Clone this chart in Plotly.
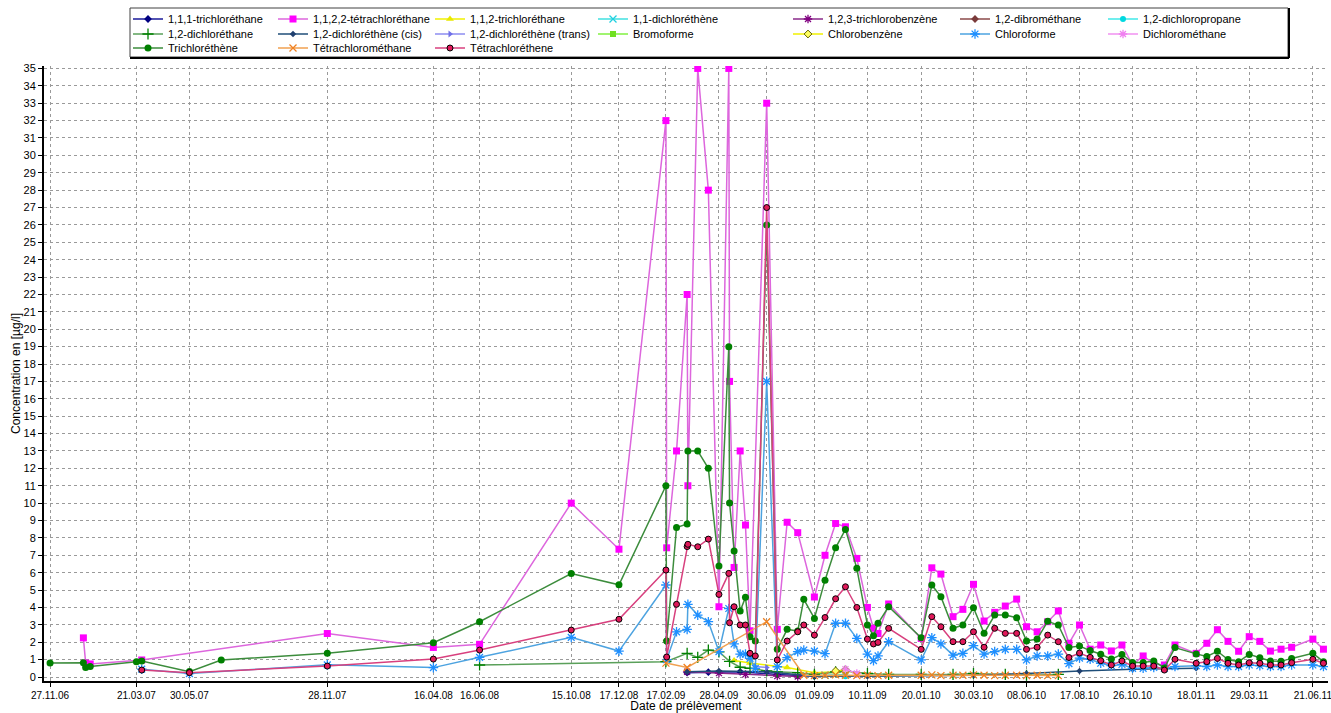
import plotly.graph_objects as go

# ---------------- data ----------------
dates = [
    "2006-11-27", "2007-01-10", "2007-01-13", "2007-01-19", "2007-03-21", "2007-03-28",
    "2007-05-30", "2007-07-11", "2007-11-28", "2008-04-16", "2008-06-16", "2008-10-15",
    "2008-12-17", "2009-02-17", "2009-02-18", "2009-03-03", "2009-03-17", "2009-03-18",
    "2009-03-31", "2009-04-14", "2009-04-28", "2009-05-11", "2009-05-12", "2009-05-18",
    "2009-05-26", "2009-06-02", "2009-06-08", "2009-06-15", "2009-06-30", "2009-07-14",
    "2009-07-27", "2009-08-10", "2009-08-18", "2009-09-01", "2009-09-15", "2009-09-29",
    "2009-10-12", "2009-10-27", "2009-11-10", "2009-11-18", "2009-11-24", "2009-12-08",
    "2010-01-20", "2010-02-03", "2010-02-15", "2010-03-03", "2010-03-16", "2010-03-30",
    "2010-04-13", "2010-04-27", "2010-05-11", "2010-05-26", "2010-06-08", "2010-06-22",
    "2010-07-06", "2010-07-20", "2010-08-03", "2010-08-17", "2010-08-31", "2010-09-14",
    "2010-09-28", "2010-10-12", "2010-10-26", "2010-11-09", "2010-11-23", "2010-12-07",
    "2010-12-21", "2011-01-18", "2011-02-01", "2011-02-15", "2011-03-01", "2011-03-15",
    "2011-03-29", "2011-04-12", "2011-04-26", "2011-05-10", "2011-05-24", "2011-06-21",
    "2011-07-05",
]

trichloroethene = [
    0.8, 0.82, 0.55, 0.6, 0.88, 0.92, 0.31, 0.98, 1.36, 1.97, 3.18, 5.95,
    5.3, 11.0, 2.07, 8.6, 8.8, 13.0, 13.0, 12.0, 6.38, 19.0, 10.0, 7.24,
    3.79, 4.58, 2.32, 2.07, 26.0, 1.59, 2.74, 2.64, 4.47, 3.37, 5.57, 7.43,
    8.49, 6.25, 2.99, 2.37, 3.09, 4.04, 2.26, 5.29, 4.62, 2.8, 2.99, 3.98,
    2.51, 3.56, 3.56, 3.41, 2.07, 2.18, 3.2, 2.99, 1.7, 1.78, 1.52, 1.31,
    1.03, 1.3, 0.83, 0.83, 0.92, 0.52, 1.69, 1.33, 1.18, 1.48, 1.0, 0.88,
    1.3, 1.11, 0.92, 0.9, 1.07, 1.36, 0.88,
]

tetrachloroethane_1122 = [
    None, 2.25, 0.8, 0.75, None, 0.98, None, None, 2.5, 1.7, 1.88, 10.0,
    7.35, 32.0, 7.43, 13.0, 22.0, 11.0, 35.0, 28.0, 4.04, 35.0, 17.0, 6.3,
    13.0, 8.74, 2.66, None, 33.0, 2.74, 8.9, 8.3, None, 4.6, 7.0, 8.83,
    8.64, 6.82, 4.0, 2.8, 2.5, 4.2, 2.22, 6.28, 5.92, 3.47, 3.89, 5.33,
    3.22, 3.72, 4.08, 4.48, 2.89, 2.6, 3.18, 3.8, 1.94, 2.99, 1.6, 1.84,
    1.5, 1.84, 0.7, 1.21, 0.75, 0.69, 1.84, 1.36, 1.94, 2.72, 2.05, 1.48,
    2.32, 2.05, 1.49, 1.6, 1.71, 2.18, 1.6,
]

tetrachloroethene = [
    None, None, None, None, None, 0.4, 0.25, None, 0.63, 1.03, 1.55, 2.7,
    3.32, 6.15, 1.15, 4.18, 7.5, 7.63, 7.49, 7.93, 4.75, 5.96, 3.12, 4.04,
    2.99, 2.99, 1.36, 1.21, 27.0, 0.98, 2.07, 2.6, 2.99, 2.41, 3.42, 4.5,
    5.19, 4.0, 2.18, 1.9, 1.99, 2.8, 1.59, 3.47, 2.89, 2.03, 2.03, 2.6,
    1.71, 2.8, 2.51, 2.51, 1.59, 1.71, 2.41, 2.03, 1.12, 1.38, 1.13, 0.94,
    0.69, 0.92, 0.63, 0.63, 0.63, 0.4, 1.02, 0.79, 0.88, 1.07, 0.79, 0.69,
    0.82, 0.79, 0.69, 0.69, 0.82, 1.02, 0.79,
]

chloroforme = [
    None, None, None, None, None, 0.45, 0.2, None, 0.7, 0.54, 1.13, 2.28,
    1.49, 5.29, 1.0, 2.6, 2.74, 4.18, 3.56, 3.18, 1.46, 3.94, None, 1.9,
    1.32, 1.32, 1.07, 0.5, 17.0, 0.59, 1.11, 1.46, 1.55, 1.49, 1.34, 3.09,
    3.09, 2.22, 1.32, 0.94, 1.21, 2.03, 0.98, 2.26, 1.9, 1.26, 1.36, 1.8,
    1.32, 1.46, 1.59, 1.59, 0.98, 1.21, 1.21, 1.32, 0.77, 1.09, 1.02, 0.79,
    0.65, 0.72, 0.5, 0.5, 0.55, 0.5, 0.6, 0.65, 0.6, 0.69, 0.6, 0.6,
    0.69, 0.65, 0.6, 0.6, 0.69, 0.69, 0.6,
]

dichloroethane_12_dates = [
    "2008-06-16", "2009-02-17", "2009-03-17", "2009-03-31", "2009-04-14", "2009-04-28",
    "2009-05-12", "2009-05-26", "2009-06-08", "2009-06-30", "2009-07-14", "2009-08-10",
    "2009-09-01", "2009-09-29", "2009-10-12", "2009-11-10", "2009-12-08", "2010-01-20",
    "2010-03-03", "2010-03-30", "2010-05-11", "2010-06-08", "2010-07-20",
]
dichloroethane_12 = [
    0.69, 0.88, 1.36, 1.13, 1.55, 1.45, 0.9, 0.56, 0.5, 0.35, 0.3, 0.25,
    0.15, 0.3, 0.35, 0.2, 0.15, 0.15, 0.15, 0.2, 0.15, 0.1, 0.15,
]

tetrachloromethane_dates = [
    "2009-02-17", "2009-03-17", "2009-06-30", "2009-08-18", "2009-09-01", "2009-09-15",
    "2009-09-29", "2009-10-12", "2009-10-27", "2009-11-10", "2009-11-24", "2009-12-08",
    "2010-01-20", "2010-02-03", "2010-02-15", "2010-03-03", "2010-03-16", "2010-03-30",
    "2010-04-13", "2010-04-27", "2010-05-11", "2010-05-26", "2010-06-08", "2010-06-22",
    "2010-07-06", "2010-07-20",
]
tetrachloromethane = [
    0.8, 0.55, 3.18, 0.1, 0.08, 0.1, 0.12, 0.1, 0.08, 0.1, 0.08, 0.1,
    0.1, 0.12, 0.08, 0.1, 0.1, 0.12, 0.1, 0.08, 0.1, 0.1, 0.08, 0.1,
    0.08, 0.08,
]

dce_cis_dates = ["2009-03-17", "2009-04-28", "2009-06-30", "2009-09-01", "2009-11-10",
                 "2010-01-20", "2010-03-30", "2010-06-08", "2010-08-17", "2010-10-26",
                 "2011-01-18"]
dce_cis = [0.3, 0.35, 0.3, 0.05, 0.05, 0.08, 0.1, 0.2, 0.35, 0.45, 0.5]

tca_111_dates = ["2009-03-17", "2009-04-14", "2009-05-26", "2009-07-14", "2009-09-01"]
tca_111 = [0.25, 0.28, 0.3, 0.15, 0.05]

tcb_123_dates = ["2009-03-17", "2009-04-28", "2009-06-02", "2009-07-14", "2009-08-10"]
tcb_123 = [0.3, 0.22, 0.15, 0.05, 0.03]

tca_112_dates = ["2009-05-18", "2009-06-08", "2009-07-27", "2009-09-01", "2009-09-29",
                 "2009-10-12", "2009-10-27"]
tca_112 = [0.95, 0.8, 0.55, 0.25, 0.3, 0.45, 0.15]

chlorobenzene_dates = ["2009-09-29", "2009-10-12"]
chlorobenzene = [0.35, 0.4]

dce_11_dates = ["2009-09-15", "2009-10-12"]
dce_11 = [0.1, 0.15]

dcp_12_dates = ["2009-10-12"]
dcp_12 = [0.05]

dichloromethane_dates = ["2009-10-12", "2009-10-27"]
dichloromethane = [0.45, 0.2]

bromoforme_dates = ["2009-10-12"]
bromoforme = [0.35]

dce_trans_dates = ["2009-06-15", "2009-06-30"]
dce_trans = [0.6, 0.55]

dibromethane_dates = ["2009-02-18"]
dibromethane = [2.1]

tick_dates = ["2006-11-27", "2007-03-21", "2007-05-30", "2007-11-28", "2008-04-16",
              "2008-06-16", "2008-10-15", "2008-12-17", "2009-02-17", "2009-04-28",
              "2009-06-30", "2009-09-01", "2009-11-10", "2010-01-20", "2010-03-30",
              "2010-06-08", "2010-08-17", "2010-10-26", "2011-01-18", "2011-03-29",
              "2011-06-21"]
tick_text = ["27.11.06", "21.03.07", "30.05.07", "28.11.07", "16.04.08", "16.06.08",
             "15.10.08", "17.12.08", "17.02.09", "28.04.09", "30.06.09", "01.09.09",
             "10.11.09", "20.01.10", "30.03.10", "08.06.10", "17.08.10", "26.10.10",
             "18.01.11", "29.03.11", "21.06.11"]

# ---------------- style ----------------
W, H = 1331, 713
L, R, T, B = 44, 3, 66, 32
PW, PH = W - L - R, H - T - B
FONT = "Liberation Sans, Arial, sans-serif"

# (name, x, y, line colour, marker colour, symbol, size, outline colour)
series = [
    ("1,1,1-trichloréthane", tca_111_dates, tca_111, "#1a1a9a", "#000080", "diamond", 6, None),
    ("1,1,2,2-tétrachloréthane", dates, tetrachloroethane_1122, "#dd66dd", "#ff00ff", "square", 7, None),
    ("1,1,2-trichloréthane", tca_112_dates, tca_112, "#f0f000", "#e8e800", "triangle-up", 7, None),
    ("1,1-dichloréthène", dce_11_dates, dce_11, "#40e0e0", "#20d0e0", "x-thin-open", 7, None),
    ("1,2,3-trichlorobenzène", tcb_123_dates, tcb_123, "#8a2a8a", "#800080", "asterisk-open", 7, None),
    ("1,2-dibrométhane", dibromethane_dates, dibromethane, "#8b4a4a", "#7a3a3a", "diamond", 6, None),
    ("1,2-dichloropropane", dcp_12_dates, dcp_12, "#40e8e8", "#00d8e0", "circle", 6, None),
    ("1,2-dichloréthane", dichloroethane_12_dates, dichloroethane_12, "#5aa05a", "#008000", "cross-thin-open", 8, None),
    ("1,2-dichloréthène (cis)", dce_cis_dates, dce_cis, "#1f4e79", "#1f3f6f", "diamond", 5, None),
    ("1,2-dichloréthène (trans)", dce_trans_dates, dce_trans, "#8c8cf0", "#7070e8", "triangle-right", 6, None),
    ("Bromoforme", bromoforme_dates, bromoforme, "#80f040", "#70e020", "square", 6, None),
    ("Chlorobenzène", chlorobenzene_dates, chlorobenzene, "#f0f000", "#ffff60", "diamond", 6, "#606000"),
    ("Chloroforme", dates, chloroforme, "#4da3e0", "#1e8fff", "asterisk-open", 8, None),
    ("Dichlorométhane", dichloromethane_dates, dichloromethane, "#f090f0", "#f080f0", "asterisk-open", 7, None),
    ("Trichloréthène", dates, trichloroethene, "#3c8c3c", "#008000", "circle", 7, None),
    ("Tétrachlorométhane", tetrachloromethane_dates, tetrachloromethane, "#f0a050", "#f08020", "x-thin-open", 7, None),
    ("Tétrachloréthene", dates, tetrachloroethene, "#d8407e", "#e0195a", "circle", 6, "#000000"),
]

legend_text_x = [168, 313, 470, 633, 828, 995, 1143]
legend_row_y = [19, 34, 48]

fig = go.Figure()
layout_legends = {}
for i, (name, xs, ys, lc, mc, sym, size, oc) in enumerate(series):
    key = "legend" if i == 0 else f"legend{i + 1}"
    row, col = divmod(i, 7)
    if sym.endswith("-open"):
        marker = dict(symbol=sym, size=size, color=mc, line=dict(color=mc, width=1.3))
    else:
        marker = dict(symbol=sym, size=size, color=mc,
                      line=dict(color=oc if oc else mc, width=1 if oc else 0))
    fig.add_trace(go.Scatter(
        x=xs, y=ys, name=name, mode="lines+markers", connectgaps=True,
        line=dict(color=lc, width=1.5), marker=marker, legend=key,
    ))
    layout_legends[key] = dict(
        x=(legend_text_x[col] - 40 - L) / PW, xanchor="left",
        y=(H - B - legend_row_y[row]) / PH, yanchor="middle",
        bgcolor="rgba(0,0,0,0)", borderwidth=0,
        font=dict(family=FONT, size=11, color="#000000"),
    )

# legend frame
bx0, bx1, by0, by1 = 130, 1288, 57, 8
fig.add_shape(type="rect", xref="paper", yref="paper",
              x0=(bx0 - L) / PW, x1=(bx1 - L) / PW,
              y0=(H - B - by0) / PH, y1=(H - B - by1) / PH,
              line=dict(color="#404040", width=1), fillcolor="white", layer="above")
fig.add_shape(type="line", xref="paper", yref="paper",
              x0=(bx0 - L) / PW, x1=(bx1 + 1 - L) / PW,
              y0=(H - B - by0 - 1) / PH, y1=(H - B - by0 - 1) / PH,
              line=dict(color="#000000", width=2), layer="above")
fig.add_shape(type="line", xref="paper", yref="paper",
              x0=(bx1 + 1 - L) / PW, x1=(bx1 + 1 - L) / PW,
              y0=(H - B - by0 - 1) / PH, y1=(H - B - by1) / PH,
              line=dict(color="#000000", width=2), layer="above")

fig.update_layout(
    width=W, height=H,
    margin=dict(l=L, r=R, t=T, b=B, autoexpand=False),
    paper_bgcolor="white", plot_bgcolor="white",
    font=dict(family=FONT, size=11, color="#000000"),
    showlegend=True,
    **layout_legends,
)

fig.update_xaxes(
    type="date", range=["2006-11-19", "2011-07-11"],
    tickvals=tick_dates, ticktext=tick_text, tickangle=0,
    showgrid=True, gridcolor="#9a9a9a", griddash="3px,3px", gridwidth=1,
    showline=True, linecolor="#000000", linewidth=2,
    ticks="outside", ticklen=4, tickcolor="#000000",
    tickfont=dict(family=FONT, size=10, color="#000000"),
    ticklabeloverflow="allow", automargin=False,
    title=dict(text="Date de prélèvement", font=dict(family=FONT, size=12, color="#000000"), standoff=0),
    zeroline=False,
)
fig.update_yaxes(
    range=[-0.23, 35.14], dtick=1, tick0=0,
    showgrid=True, gridcolor="#9a9a9a", griddash="3px,3px", gridwidth=1,
    showline=True, linecolor="#000000", linewidth=2,
    ticks="outside", ticklen=4, tickcolor="#000000",
    tickfont=dict(family=FONT, size=11, color="#000000"),
    automargin=False,
    title=dict(text="Concentration en [µg/l]", font=dict(family=FONT, size=12, color="#000000"), standoff=0),
    zeroline=False,
)

fig.write_html("out.html", config={"displayModeBar": False},
               post_script="document.body.style.margin='0px';")
